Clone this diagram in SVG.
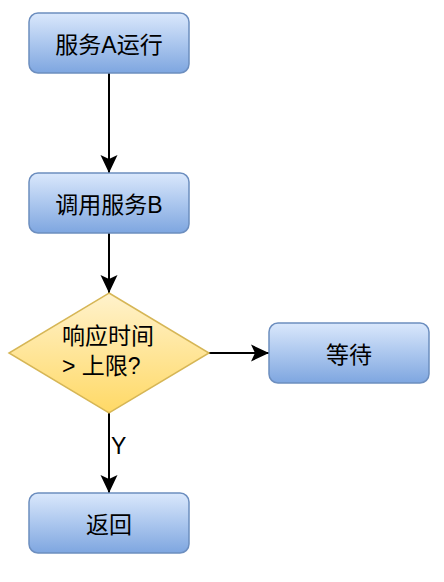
<svg xmlns="http://www.w3.org/2000/svg" width="444" height="582" viewBox="0 0 444 582">
<defs>
<linearGradient id="gBlue" x1="0" y1="0" x2="0" y2="1">
<stop offset="0" stop-color="#dae8fc"/>
<stop offset="1" stop-color="#7ea6e0"/>
</linearGradient>
<linearGradient id="gYellow" x1="0" y1="0" x2="0" y2="1">
<stop offset="0" stop-color="#fff2cc"/>
<stop offset="1" stop-color="#ffd966"/>
</linearGradient>
<marker id="arr" markerUnits="userSpaceOnUse" markerWidth="20" markerHeight="20" refX="18" refY="9" orient="auto">
<path d="M0,0.5 L18,9 L0,17.5 L4,9 Z" fill="#000"/>
</marker>
<style>
.box{fill:url(#gBlue);stroke:#6c8ebf;stroke-width:1.5}
.dia{fill:url(#gYellow);stroke:#d6b656;stroke-width:1.5}
.t{font-family:"Liberation Sans","Noto Sans CJK SC",sans-serif;font-size:23px;fill:#000}
.c{text-anchor:middle}
.edge{stroke:#000;stroke-width:2;fill:none;marker-end:url(#arr)}
</style>
</defs>
<rect width="444" height="582" fill="#fff"/>
<g id="connectors">
<path class="edge" d="M109,73 L109,173"/>
<path class="edge" d="M109,233 L109,293"/>
<path class="edge" d="M209,353 L269,353"/>
<path class="edge" d="M109,413 L109,493"/>
<text class="t" x="111" y="454">Y</text>
</g>
<g id="n1">
<rect class="box" x="29" y="13" width="160" height="60" rx="9"/>
<text class="t c" x="109" y="52.5">服务A运行</text>
</g>
<g id="n2">
<rect class="box" x="29" y="173" width="160" height="60" rx="9"/>
<text class="t c" x="109" y="212.5">调用服务B</text>
</g>
<g id="n3">
<path class="dia" d="M109,293 L209,353 L109,413 L9,353 Z"/>
<text class="t" x="62" y="343.5">响应时间</text>
<text class="t" x="62" y="373.5">&gt; 上限?</text>
</g>
<g id="n4">
<rect class="box" x="269" y="323" width="160" height="60" rx="9"/>
<text class="t c" x="349" y="362.5">等待</text>
</g>
<g id="n5">
<rect class="box" x="29" y="493" width="160" height="60" rx="9"/>
<text class="t c" x="109" y="532.5">返回</text>
</g>
</svg>
